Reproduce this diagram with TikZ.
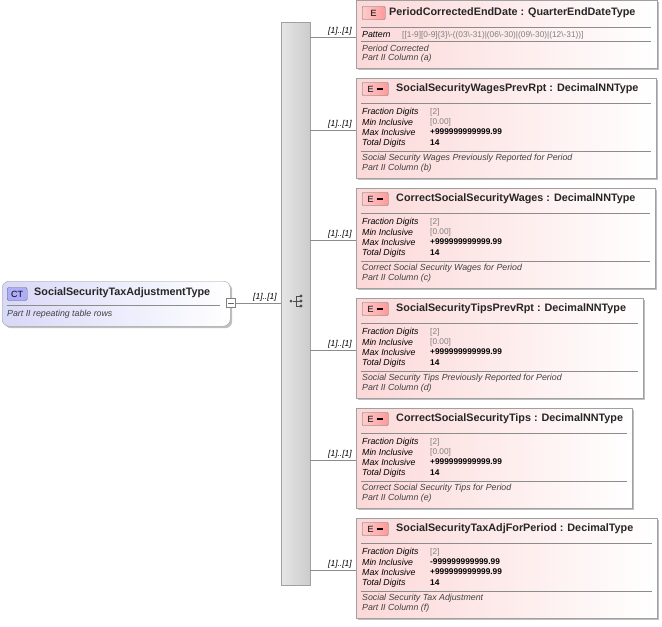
\documentclass[tikz,border=0pt]{standalone}
\usepackage{fontspec}
\setmainfont{Liberation Sans}
\usetikzlibrary{shadows}
\definecolor{bord}{HTML}{A0A0A0}
\definecolor{pinkA}{HTML}{FCD8D8}
\definecolor{ctA}{HTML}{D8D8F8}
\tikzset{
 ebox/.style={draw=bord,line width=0.6pt,left color=pinkA,right color=white,anchor=north west,inner sep=0,drop shadow={shadow xshift=2pt,shadow yshift=-2pt,fill=black!25,opacity=1}},
 badge/.style={draw=black!60,left color=red!20,right color=red!40,rounded corners=1pt,font=\fontsize{9}{10}\selectfont,inner sep=0,minimum height=13pt,anchor=west},
 ttl/.style={font=\bfseries\fontsize{10.8}{12}\selectfont,anchor=west,inner sep=0,text=black!85},
 fk/.style={font=\itshape\fontsize{8.8}{10}\selectfont,anchor=west,inner sep=0},
 fv/.style={font=\fontsize{8.3}{10}\selectfont,anchor=west,inner sep=0,text=black!50},
 fvb/.style={font=\bfseries\fontsize{8.3}{10}\selectfont,anchor=west,inner sep=0},
 ds/.style={font=\itshape\fontsize{8.8}{10}\selectfont,anchor=west,inner sep=0,text=black!75},
 sep/.style={draw=black!45,line width=0.5pt},
 conn/.style={draw=black!45,line width=0.5pt},
 card/.style={font=\itshape\fontsize{8.5}{10}\selectfont,inner sep=0,anchor=south east},
}
\begin{document}
\begin{tikzpicture}[x=1pt,y=-1pt]
\useasboundingbox (0,0) rectangle (662,627);
% CT box
\node[draw=bord,rounded corners=7pt,left color=ctA,right color=white,anchor=north west,minimum width=228pt,minimum height=45pt,inner sep=0,drop shadow={shadow xshift=2pt,shadow yshift=-2pt,fill=black!25,opacity=1}] (ct) at (2,281) {};
\node[draw=black!60,fill=ctA!80!blue,rounded corners=2pt,font=\fontsize{9}{10}\selectfont,inner sep=0,minimum width=20pt,minimum height=13pt,anchor=west] (ctb) at (7,294) {CT};
\node[ttl] (ctt) at (34,293) {SocialSecurityTaxAdjustmentType};
\draw[sep] (7,305) -- (220,305);
\node[fk,text=black!75] (ctd) at (7,314) {Part II repeating table rows};
\node[draw=black!50,fill=white,minimum size=9pt,inner sep=0] (sq) at (231,303) {};
\draw[black!60,line width=0.4pt] (228,303) -- (234,303);
% sequence
\node[draw=bord,left color=black!10,right color=black!20,anchor=north west,minimum width=29pt,minimum height=563pt,inner sep=0] (seq) at (281,22) {};
\coordinate (seqin) at (281,303);
\draw[conn] (sq.east) -- (seqin);
\node[card] (c0) at (277,301) {[1]..[1]};
% sequence icon
\node[circle,fill=black!70,inner sep=0,minimum size=3pt] (i0) at (291,301) {};
\foreach \yy in {296,301,306}{\fill[black!70] (301,\yy) circle (1.6pt);}
\draw[black!70,line width=0.6pt] (i0) -- (296,301) (296,296) -- (296,306) (296,296)--(301,296) (296,306)--(301,306) (296,301)--(301,301);
% element 1
\node[ebox,minimum width=301pt,minimum height=68pt] (e1) at (356,0) {};
\node[badge,minimum width=23pt] (b1) at (362,13) {E};
\node[ttl] (t1) at (389,13) {PeriodCorrectedEndDate : QuarterEndDateType};
\draw[sep] (361,27) -- (651,27);
\node[fk] at (362,35) {Pattern};
\node[fv] at (402,35) {[[1-9][0-9]\{3\}\textbackslash-((03\textbackslash-31)|(06\textbackslash-30)|(09\textbackslash-30)|(12\textbackslash-31))]};
\draw[sep] (361,41) -- (651,41);
\node[ds] at (362,48) {Period Corrected};
\node[ds] at (362,58) {Part II Column (a)};
\coordinate (l1) at (310,37);
\draw[conn] (l1) -- (e1.west |- l1);
\node[card] at (352,35) {[1]..[1]};
% elements 2-6
\foreach \i/\top/\w/\nm/\ty/\dsc/\col/\mn/\mx in {
 2/78/300/SocialSecurityWagesPrevRpt/DecimalNNType/Social Security Wages Previously Reported for Period/b/[0.00]/+999999999999.99,
 3/188/299/CorrectSocialSecurityWages/DecimalNNType/Correct Social Security Wages for Period/c/[0.00]/+999999999999.99,
 4/298/287/SocialSecurityTipsPrevRpt/DecimalNNType/Social Security Tips Previously Reported for Period/d/[0.00]/+999999999999.99,
 5/408/276/CorrectSocialSecurityTips/DecimalNNType/Correct Social Security Tips for Period/e/[0.00]/+999999999999.99,
 6/518/301/SocialSecurityTaxAdjForPeriod/DecimalType/Social Security Tax Adjustment/f/-999999999999.99/+999999999999.99}{
 \node[ebox,minimum width=\w pt,minimum height=100pt] (e\i) at (356,\top) {};
 \node[badge,minimum width=26pt] (b\i) at (362,\top+11) {E\,\,\rule[2.5pt]{6pt}{1.5pt}};
 \node[ttl] (t\i) at (396,\top+11) {\nm\ : \ty};
 \draw[sep] (361,\top+25) -- (351+\w,\top+25);
 \node[fk] at (362,\top+34) {Fraction Digits};
 \node[fk] at (362,\top+44) {Min Inclusive};
 \node[fk] at (362,\top+54) {Max Inclusive};
 \node[fk] at (362,\top+65) {Total Digits};
 \node[fv] at (430,\top+34) {[2]};
 \ifnum\i=6 \node[fvb] at (430,\top+44) {\mn};\else\node[fv] at (430,\top+44) {\mn};\fi
 \node[fvb] at (430,\top+54) {\mx};
 \node[fvb] at (430,\top+65) {14};
 \draw[sep] (361,\top+73) -- (351+\w,\top+73);
 \node[ds] at (362,\top+80) {\dsc};
 \node[ds] at (362,\top+90) {Part II Column (\col)};
 \coordinate (l\i) at (310,\top+52);
 \draw[conn] (l\i) -- (e\i.west |- l\i);
 \node[card] at (352,\top+50) {[1]..[1]};
}
\end{tikzpicture}
\end{document}
